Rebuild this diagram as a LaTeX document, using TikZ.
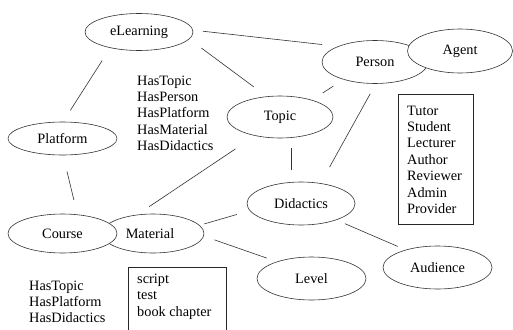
\documentclass[tikz,border=0pt]{standalone}
\usepackage{fontspec}
\setmainfont{Liberation Serif}
\usetikzlibrary{shapes.geometric}
\begin{document}
\begin{tikzpicture}[x=1pt,y=-1pt,
  every node/.style={font=\fontsize{14.3}{16.4}\selectfont},
  ell/.style={draw=black!80, line width=0.6pt, fill=white, ellipse, inner sep=0pt},
  conn/.style={draw=black!80, line width=0.6pt},
  boxnode/.style={draw=black!85, line width=0.7pt, rectangle, inner sep=0pt, anchor=north west},
  txt/.style={anchor=base west, inner sep=0pt}
]
\useasboundingbox[fill=white] (0,0) rectangle (513,329);
% ellipses
\node[ell, minimum width=108pt, minimum height=37pt] (eL) at (139,32) {eLearning};
\node[ell, minimum width=109pt, minimum height=33pt] (Pl) at (62.5,138.5) {Platform};
\node[ell, minimum width=106pt, minimum height=42pt] (To) at (280,117) {Topic};
\node[ell, minimum width=106pt, minimum height=43pt] (Pe) at (375,62) {Person};
\node[ell, minimum width=105pt, minimum height=44pt] (Ag) at (460,51) {Agent};
\node[ell, minimum width=102pt, minimum height=39pt] (Ma) at (153,233.5) {\hspace*{-6pt}Material};
\node[ell, minimum width=109pt, minimum height=39pt] (Co) at (62.5,233.5) {Course};
\node[ell, minimum width=108pt, minimum height=43pt] (Di) at (301,203.5) {Didactics};
\node[ell, minimum width=109pt, minimum height=43pt] (Le) at (311.5,278.5) {Level};
\node[ell, minimum width=109pt, minimum height=43pt] (Au) at (437.5,267.5) {Audience};
% connectors
\draw[conn, shorten <=10pt, shorten >=16pt] (eL.2) -- (Pe.157);
\draw[conn, shorten <=15pt, shorten >=16pt] (eL.-8) -- (To.123);
\draw[conn, shorten <=15pt, shorten >=13.5pt] (eL.209) -- (Pl.88);
\draw[conn, shorten <=16.5pt, shorten >=14.8pt] (Pl.-88) -- (Co.52);
\draw[conn, shorten <=23.6pt, shorten >=14.5pt] (To.217) -- (Ma.130);
\draw[conn, shorten <=12.9pt, shorten >=11.9pt] (To.28) -- (Pe.209);
\draw[conn] ([shift={(11pt,-10pt)}]To.south) -- ([shift={(-10pt,12pt)}]Di.north);
\draw[conn, shorten <=11.5pt, shorten >=18.5pt] (Pe.-88) -- (Di.46);
\draw[conn, shorten <=4.8pt, shorten >=13.5pt] (Ma.10) -- (Di.188);
\draw[conn, shorten <=11.2pt, shorten >=10.6pt] (Ma.-3) -- (Le.154);
\draw[conn, shorten <=9.3pt, shorten >=8.5pt] (Di.-25) -- (Au.151);
% boxes
\node[boxnode, minimum width=75pt, minimum height=130pt] (roles) at (398,94) {};
\node[txt] (rolestext) at ([shift={(9pt,-21pt)}]roles.north west)
  {\begin{tabular}[t]{@{}l@{}}Tutor\\Student\\Lecturer\\Author\\Reviewer\\Admin\\Provider\end{tabular}};
\node[boxnode, minimum width=98pt, minimum height=66pt] (mats) at (128,266.5) {};
\node[txt] (matstext) at ([shift={(9pt,-17pt)}]mats.north west)
  {\begin{tabular}[t]{@{}l@{}}script\\test\\book chapter\end{tabular}};
% relation lists
\node[txt] (rel1) at (137,85)
  {\begin{tabular}[t]{@{}l@{}}HasTopic\\HasPerson\\HasPlatform\\HasMaterial\\HasDidactics\end{tabular}};
\node[txt] (rel2) at (29,290)
  {\begin{tabular}[t]{@{}l@{}}HasTopic\\HasPlatform\\HasDidactics\end{tabular}};
\end{tikzpicture}
\end{document}
